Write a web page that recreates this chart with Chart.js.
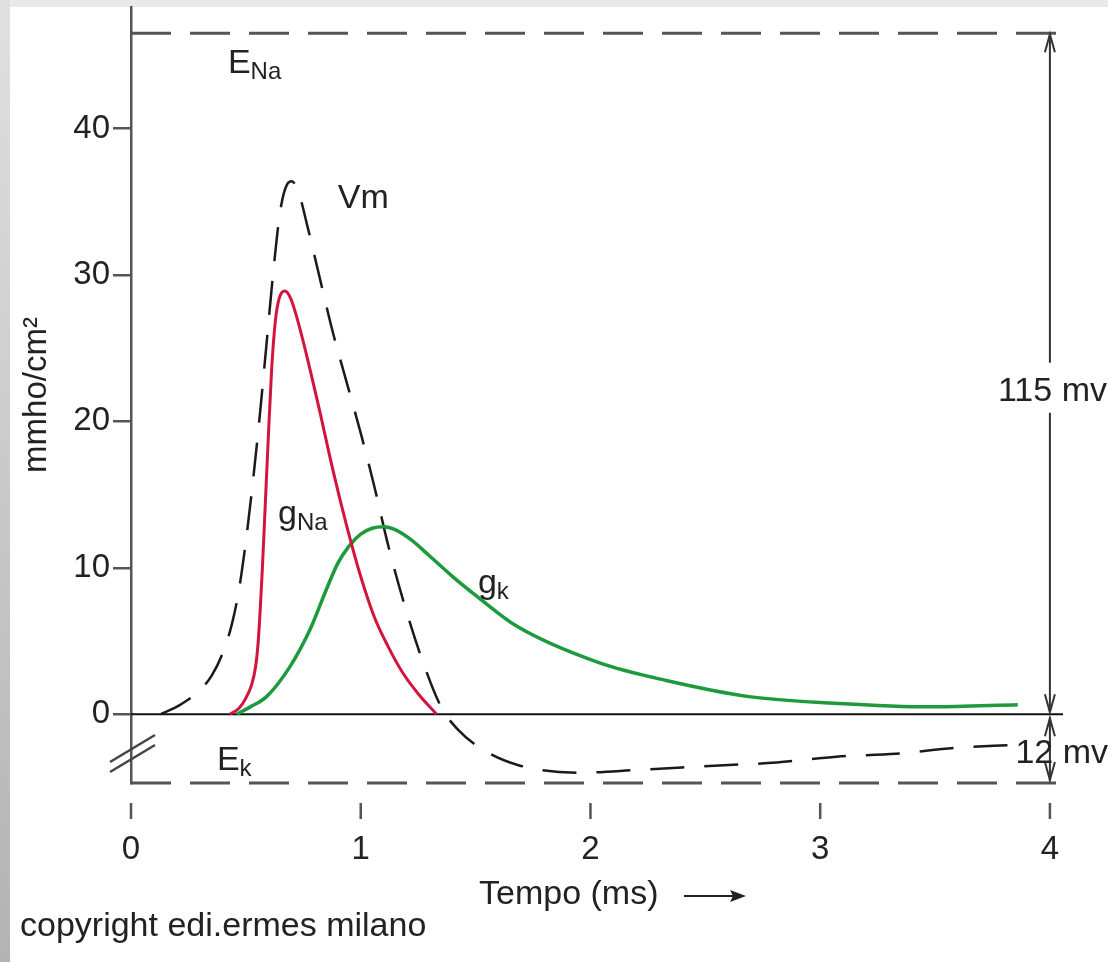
<!DOCTYPE html>
<html lang="it">
<head>
<meta charset="UTF-8">
<title>Conduttanze gNa e gK</title>
<script src="https://cdn.jsdelivr.net/npm/chart.js"></script>
<style>
    html, body { margin: 0; padding: 0; background: #fff; }
</style>
</head>
<body>
<canvas id="chart" width="1108" height="962"></canvas>
<script>
// valori (tempo in ms, mmho/cm2)
const vmTime   = [0.13, 0.21, 0.29, 0.35, 0.40, 0.44, 0.47, 0.50, 0.53, 0.56, 0.59, 0.62, 0.65, 0.68, 0.70, 0.73, 0.77, 0.82, 0.88, 0.94, 1.00, 1.06, 1.12, 1.19, 1.27, 1.35, 1.42, 1.54, 1.69, 1.95, 2.21, 2.56, 2.81, 3.07, 3.33, 3.59, 3.84];
const vmValues = [0, 0.6, 1.5, 2.6, 4.2, 6.2, 8.5, 11.8, 15.8, 20.3, 25.3, 30.3, 34.4, 36.2, 36.4, 35.6, 33.2, 29.9, 26.0, 22.6, 19.2, 15.5, 11.5, 7.5, 3.6, 0.5, -1.0, -2.5, -3.5, -4.0, -3.8, -3.5, -3.3, -2.9, -2.7, -2.3, -2.1];

const naTime   = [0.43, 0.47, 0.50, 0.525, 0.542, 0.553, 0.562, 0.572, 0.585, 0.598, 0.612, 0.628, 0.645, 0.67, 0.695, 0.72, 0.76, 0.82, 0.88, 0.94, 1.00, 1.06, 1.12, 1.18, 1.25, 1.33];
const naValues = [0, 0.4, 1.1, 2.0, 3.2, 4.8, 7.0, 10.0, 14.5, 19.0, 23.5, 26.8, 28.4, 28.9, 28.4, 27.2, 24.8, 20.8, 16.6, 12.8, 9.4, 6.6, 4.6, 2.9, 1.4, 0];

const kTime    = [0.46, 0.52, 0.59, 0.69, 0.78, 0.85, 0.90, 0.95, 1.00, 1.05, 1.10, 1.15, 1.22, 1.30, 1.40, 1.51, 1.68, 2.04, 2.33, 2.69, 3.06, 3.49, 3.86];
const kValues  = [0, 0.5, 1.2, 3.2, 5.8, 8.5, 10.3, 11.5, 12.3, 12.7, 12.8, 12.6, 11.9, 10.8, 9.4, 8.0, 6.0, 3.5, 2.3, 1.2, 0.75, 0.5, 0.65];

const xTicks = [0, 1, 2, 3, 4];
const yTicks = [0, 10, 20, 30, 40];
const eNa = 46.5;
const eK = -4.7;
const xMax = 4.057;
const yMax = 48.3;

const FONT = '"Liberation Sans", Arial, sans-serif';
Chart.defaults.font.family = FONT;

function pts(xs, ys) {
    return xs.map((x, i) => ({ x: x, y: ys[i] }));
}

function arrowHead(ctx, x, y, dir) {
    // dir = -1 punta in alto, 1 punta in basso
    ctx.beginPath();
    ctx.moveTo(x - 5, y - dir * 18);
    ctx.lineTo(x, y);
    ctx.lineTo(x + 5, y - dir * 18);
    ctx.stroke();
}

function label(ctx, x, y, main, sub) {
    ctx.font = '34px ' + FONT;
    ctx.fillText(main, x, y);
    if (sub) {
        const w = ctx.measureText(main).width;
        ctx.font = '24px ' + FONT;
        ctx.fillText(sub, x + w, y + 6);
    }
}

const decor = {
    id: 'decor',
    beforeDraw(chart) {
        const ctx = chart.ctx;
        ctx.save();
        ctx.fillStyle = '#e9e9e9';
        ctx.fillRect(0, 0, chart.width, chart.height);
        const g = ctx.createLinearGradient(0, 0, 0, chart.height);
        g.addColorStop(0, '#e0e0e0');
        g.addColorStop(1, '#b3b3b3');
        ctx.fillStyle = g;
        ctx.fillRect(0, 0, 10, chart.height);
        ctx.fillStyle = '#fff';
        ctx.fillRect(10, 7, chart.width - 10, chart.height - 7);
        ctx.restore();
    },
    afterDraw(chart) {
        const ctx = chart.ctx;
        const xs = chart.scales.x, ys = chart.scales.y;
        const area = chart.chartArea;
        const px = v => xs.getPixelForValue(v);
        const py = v => ys.getPixelForValue(v);
        ctx.save();

        // tacche asse x staccate dalla linea EK
        ctx.strokeStyle = '#555';
        ctx.lineWidth = 2.5;
        xTicks.forEach(v => {
            ctx.beginPath();
            ctx.moveTo(px(v), area.bottom + 20);
            ctx.lineTo(px(v), area.bottom + 36);
            ctx.stroke();
        });

        // interruzione dell'asse y
        ctx.strokeStyle = '#444';
        ctx.lineWidth = 2.5;
        [0, 10].forEach(d => {
            ctx.beginPath();
            ctx.moveTo(area.left - 21, area.bottom - 21 + d);
            ctx.lineTo(area.left + 24, area.bottom - 48 + d);
            ctx.stroke();
        });

        // frecce 115 mv e 12 mv
        const ax = px(4);
        const yNa = py(eNa), y0 = py(0), yK = py(eK);
        const txt115 = py(21.4);
        ctx.strokeStyle = '#333';
        ctx.lineWidth = 2;
        ctx.beginPath();
        ctx.moveTo(ax, yNa + 1); ctx.lineTo(ax, txt115 - 38);
        ctx.moveTo(ax, txt115 + 12); ctx.lineTo(ax, y0 - 2);
        ctx.moveTo(ax, y0 + 3); ctx.lineTo(ax, yK - 2);
        ctx.stroke();
        arrowHead(ctx, ax, yNa + 1, -1);
        arrowHead(ctx, ax, y0 - 2, 1);
        arrowHead(ctx, ax, y0 + 4, -1);
        arrowHead(ctx, ax, yK - 3, 1);

        // etichette
        ctx.fillStyle = '#222';
        ctx.textBaseline = 'alphabetic';
        ctx.textAlign = 'left';
        label(ctx, px(0.422), py(43.8), 'E', 'Na');
        label(ctx, px(0.90), py(34.6), 'Vm');
        label(ctx, px(0.64), py(13.0), 'g', 'Na');
        label(ctx, px(1.51), py(8.3), 'g', 'k');
        label(ctx, px(0.374), py(-3.8), 'E', 'k');
        label(ctx, px(3.774), txt115, '115 mv');
        label(ctx, px(3.85), py(-3.3), '12 mv');

        // titolo asse x con freccia
        ctx.font = '34px ' + FONT;
        ctx.fillText('Tempo (ms)', 479, 904);
        ctx.strokeStyle = '#222';
        ctx.lineWidth = 2;
        ctx.beginPath();
        ctx.moveTo(684, 896); ctx.lineTo(736, 896);
        ctx.stroke();
        ctx.beginPath();
        ctx.moveTo(746, 896); ctx.lineTo(730, 890); ctx.lineTo(733, 896); ctx.lineTo(730, 902);
        ctx.closePath();
        ctx.fill();

        ctx.font = '34px ' + FONT;
        ctx.fillText('copyright edi.ermes milano', 20, 936);
        ctx.restore();
    }
};

new Chart(document.getElementById('chart'), {
    type: 'line',
    data: {
        datasets: [{
            label: 'gNa',
            data: pts(naTime, naValues),
            borderColor: '#d3143c',
            borderWidth: 3,
            cubicInterpolationMode: 'monotone'
        }, {
            label: 'gK',
            data: pts(kTime, kValues),
            borderColor: '#1c9a3c',
            borderWidth: 3.5,
            cubicInterpolationMode: 'monotone'
        }, {
            label: 'Vm',
            data: pts(vmTime, vmValues),
            borderColor: '#1a1a1a',
            borderWidth: 2.5,
            borderDash: [34, 20],
            cubicInterpolationMode: 'monotone'
        }, {
            label: 'zero',
            data: [{ x: 0, y: 0 }, { x: xMax, y: 0 }],
            borderColor: '#111',
            borderWidth: 2
        }, {
            label: 'ENa',
            data: [{ x: 0, y: eNa }, { x: xMax, y: eNa }],
            borderColor: '#555',
            borderWidth: 3,
            borderDash: [40, 19],
            clip: 6
        }, {
            label: 'EK',
            data: [{ x: 0, y: eK }, { x: xMax, y: eK }],
            borderColor: '#555',
            borderWidth: 3,
            borderDash: [40, 19],
            clip: 6
        }]
    },
    options: {
        responsive: false,
        animation: false,
        layout: { padding: { left: 10, top: 7, right: 45, bottom: 0 } },
        elements: { point: { radius: 0 } },
        plugins: {
            legend: { display: false },
            tooltip: { enabled: false }
        },
        scales: {
            x: {
                type: 'linear',
                min: 0,
                max: xMax,
                afterBuildTicks: s => { s.ticks = xTicks.map(v => ({ value: v })); },
                afterFit: s => { s.height = 179; s.paddingLeft = 0; s.paddingRight = 0; },
                grid: { display: false, drawTicks: false },
                border: { display: false },
                ticks: { padding: 47, color: '#222', font: { size: 33 }, maxRotation: 0 }
            },
            y: {
                min: eK,
                max: yMax,
                afterBuildTicks: s => { s.ticks = yTicks.map(v => ({ value: v })); },
                afterFit: s => { s.width = 121; s.paddingTop = 0; s.paddingBottom = 0; },
                grid: { drawOnChartArea: false, tickLength: 18, color: '#555', lineWidth: 2.5 },
                border: { color: '#555', width: 2.5 },
                ticks: { padding: 3, color: '#222', font: { size: 33 } },
                title: {
                    display: true,
                    text: 'mmho/cm²',
                    color: '#222',
                    font: { size: 33 },
                    padding: { top: 7, bottom: 0 }
                }
            }
        }
    },
    plugins: [decor]
});
</script>
</body>
</html>
